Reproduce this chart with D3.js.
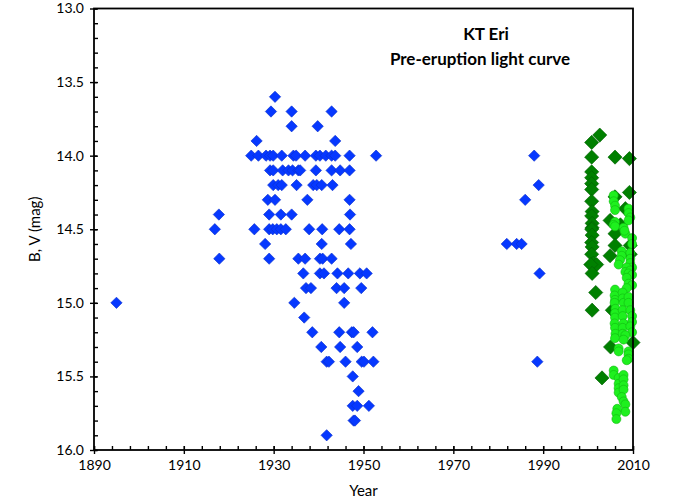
<!DOCTYPE html>
<html lang="en">
<head>
  <meta charset="UTF-8">
  <title>KT Eri</title>
  <style>
    body { margin: 0; background: #fff; }
    text { font-family: Lato, "Open Sans", sans-serif; }
  </style>
</head>
<body>
  <svg width="673" height="502" class="svgs"></svg>
  <script src="https://cdn.jsdelivr.net/npm/d3@7/dist/d3.min.js"></script>
  <script>
    // photographic (B) points, [year, mag]
    const bluePoints = [
      [1895.0, 15.0], [1916.9, 14.5], [1917.8, 14.4], [1917.9, 14.7],
      [1930.3, 13.6],
      [1929.4, 13.7], [1934.0, 13.7], [1942.9, 13.7],
      [1934.0, 13.8], [1939.8, 13.8],
      [1926.2, 13.9], [1943.7, 13.9],
      [1925.0, 14.0], [1926.6, 14.0], [1928.3, 14.0], [1929.2, 14.0], [1929.9, 14.0], [1931.8, 14.0],
      [1934.4, 14.0], [1935.0, 14.0], [1937.0, 14.0], [1939.4, 14.0], [1940.3, 14.0], [1941.6, 14.0],
      [1942.9, 14.0], [1943.7, 14.0], [1946.9, 14.0], [1952.8, 14.0],
      [1929.2, 14.1], [1929.9, 14.1], [1932.0, 14.1], [1933.3, 14.1], [1934.2, 14.1], [1935.5, 14.1],
      [1935.9, 14.1], [1939.4, 14.1], [1942.9, 14.1], [1944.8, 14.1], [1946.9, 14.1],
      [1929.9, 14.2], [1931.0, 14.2], [1931.8, 14.2], [1935.1, 14.2], [1938.8, 14.2], [1939.6, 14.2],
      [1940.7, 14.2], [1943.1, 14.2],
      [1928.7, 14.3], [1930.3, 14.3], [1937.5, 14.3], [1946.9, 14.3],
      [1929.0, 14.4], [1931.6, 14.4], [1934.0, 14.4], [1947.0, 14.4],
      [1925.7, 14.5], [1929.0, 14.5], [1929.8, 14.5], [1930.7, 14.5], [1931.6, 14.5], [1932.7, 14.5],
      [1937.9, 14.5], [1940.8, 14.5], [1944.6, 14.5], [1946.9, 14.5],
      [1928.1, 14.6], [1940.7, 14.6], [1947.2, 14.6],
      [1929.0, 14.7], [1935.5, 14.7], [1937.0, 14.7], [1940.3, 14.7], [1940.9, 14.7], [1942.9, 14.7],
      [1936.6, 14.8], [1940.3, 14.8], [1941.2, 14.8], [1944.2, 14.8], [1946.6, 14.8], [1949.2, 14.8], [1950.7, 14.8],
      [1937.2, 14.9], [1938.3, 14.9], [1944.0, 14.9], [1945.7, 14.9], [1949.5, 14.9],
      [1934.6, 15.0], [1945.7, 15.0],
      [1936.8, 15.1],
      [1938.6, 15.2], [1944.6, 15.2], [1947.4, 15.2], [1947.8, 15.2], [1952.0, 15.2],
      [1940.6, 15.3], [1944.8, 15.3], [1948.6, 15.3],
      [1941.8, 15.4], [1942.3, 15.4], [1946.0, 15.4], [1949.6, 15.4], [1950.1, 15.4], [1952.2, 15.4],
      [1947.6, 15.5], [1948.9, 15.6],
      [1947.6, 15.7], [1948.6, 15.7], [1951.2, 15.7],
      [1947.8, 15.8], [1948.1, 15.8],
      [1941.8, 15.9],
      [1981.9, 14.6], [1984.1, 14.6], [1985.2, 14.6], [1988.0, 14.0], [1989.0, 14.2],
      [1986.0, 14.3], [1989.2, 14.8], [1988.7, 15.4]
    ]

    // dark green diamonds
    const darkPoints = [
      [2002.6, 13.86], [2000.8, 13.91], [2000.8, 14.01], [2006.0, 14.01], [2009.2, 14.02],
      [2000.8, 14.11], [2000.8, 14.15], [2000.8, 14.19], [2000.8, 14.23], [2009.2, 14.25],
      [2006.0, 14.28], [2000.8, 14.31], [2008.3, 14.36], [2000.9, 14.38], [2000.8, 14.41],
      [2004.9, 14.44], [2000.9, 14.46], [2007.2, 14.47], [2000.9, 14.49], [2000.8, 14.50],
      [2006.0, 14.53], [2000.9, 14.54], [2000.8, 14.59], [2006.0, 14.61], [2009.4, 14.61],
      [2000.9, 14.62], [2000.8, 14.67], [2004.9, 14.68], [2009.4, 14.67], [2001.2, 14.73],
      [2001.9, 14.74], [2000.6, 14.74], [2000.9, 14.80], [2001.7, 14.93], [2000.9, 15.05],
      [2005.4, 15.05], [2005.0, 15.30], [2010.0, 15.27], [2003.1, 15.51]
    ]

    // bright green circles
    const greenPoints = [
      [2005.7, 14.27], [2005.7, 14.31], [2006.0, 14.34], [2006.0, 14.37], [2009.0, 14.36],
      [2009.0, 14.39], [2009.4, 14.42], [2009.0, 14.44], [2006.0, 14.45], [2005.7, 14.47],
      [2006.0, 14.48], [2007.9, 14.49], [2008.3, 14.53], [2008.1, 14.51], [2009.8, 14.56],
      [2009.8, 14.60], [2007.5, 14.65], [2007.5, 14.68], [2007.1, 14.71], [2006.8, 14.74],
      [2009.4, 14.66], [2009.4, 14.70], [2009.4, 14.73], [2009.8, 14.76], [2008.6, 14.76],
      [2008.3, 14.79], [2009.4, 14.78],
      [2009.0, 14.80], [2009.8, 14.81], [2008.6, 14.83], [2009.0, 14.87], [2009.8, 14.88],
      [2008.6, 14.90], [2006.0, 14.91], [2005.9, 14.95], [2006.0, 14.98], [2005.9, 15.00],
      [2006.1, 15.04], [2006.0, 15.07], [2006.0, 15.10], [2005.9, 15.14], [2006.0, 15.17],
      [2006.1, 15.21], [2006.0, 15.24], [2007.7, 14.93], [2007.7, 14.97], [2007.9, 15.00],
      [2007.7, 15.05], [2007.7, 15.09], [2007.9, 15.14], [2007.7, 15.17], [2007.7, 15.21],
      [2009.0, 14.96], [2009.0, 15.00], [2009.4, 15.05], [2009.8, 15.09], [2009.8, 15.13],
      [2009.4, 15.16], [2009.8, 15.20], [2008.3, 15.22], [2007.9, 15.25], [2006.8, 15.31],
      [2006.8, 15.33], [2009.0, 15.33], [2009.0, 15.35], [2009.0, 15.38],
      [2008.6, 15.39], [2005.7, 15.46], [2005.7, 15.49], [2006.8, 15.51], [2006.8, 15.55],
      [2006.8, 15.58], [2006.8, 15.61], [2007.9, 15.49], [2007.9, 15.52], [2007.9, 15.56],
      [2007.9, 15.59], [2007.5, 15.64], [2007.9, 15.67], [2008.3, 15.69], [2008.3, 15.74],
      [2006.5, 15.72], [2006.3, 15.75], [2006.3, 15.79]
    ]

    const xTicks = [1890, 1910, 1930, 1950, 1970, 1990, 2010]
    const yTicks = [13.0, 13.5, 14.0, 14.5, 15.0, 15.5, 16.0]

    const mainsvg = d3.select('.svgs')
    const margin = { top: 8.5, right: 40, bottom: 52, left: 94 }
    const width = +mainsvg.attr('width')
    const height = +mainsvg.attr('height')
    const innerWidth = width - margin.left - margin.right
    const innerHeight = height - margin.top - margin.bottom

    const xScale = d3.scaleLinear().domain([1890, 2010]).range([0, innerWidth])
    const yScale = d3.scaleLinear().domain([13, 16]).range([0, innerHeight])

    const g = mainsvg.append('g')
      .attr('transform', `translate(${margin.left}, ${margin.top})`)

    // minor ticks (inside)
    const xMinor = d3.axisBottom(xScale).tickValues(d3.range(1890, 2010.1, 4))
      .tickSize(-4).tickFormat('')
    g.append('g').attr('transform', `translate(0, ${innerHeight})`).call(xMinor)
    const yMinor = d3.axisLeft(yScale).tickValues(d3.range(13, 16.01, 0.1))
      .tickSize(-4).tickFormat('')
    g.append('g').call(yMinor)

    // major ticks (cross)
    const xAxis = d3.axisBottom(xScale).tickValues(xTicks).tickSize(4).tickPadding(6)
      .tickFormat(d3.format('d'))
    const xg = g.append('g').attr('transform', `translate(0, ${innerHeight})`).call(xAxis)
    xg.selectAll('.tick line').attr('y1', -4)
    const yAxis = d3.axisLeft(yScale).tickValues(yTicks).tickSize(4).tickPadding(6)
      .tickFormat(d3.format('.1f'))
    const yg = g.append('g').call(yAxis)
    yg.selectAll('.tick line').attr('x1', 3)

    g.selectAll('.domain').remove()
    g.selectAll('.tick line').attr('stroke', '#000').attr('stroke-width', 1.4)
    g.selectAll('.tick text').attr('font-size', 14).attr('fill', '#000')
      .style('font-family', 'Lato, sans-serif')

    const diamond = d3.symbol().type(d3.symbolSquare)

    g.append('g').selectAll('path').data(bluePoints).join('path')
      .attr('d', diamond.size(64)())
      .attr('transform', d => `translate(${xScale(d[0])}, ${yScale(d[1])}) rotate(45)`)
      .attr('fill', '#0638ff')
      .attr('stroke', '#0a2fcc')
      .attr('stroke-width', 0.6)

    g.append('g').selectAll('path').data(darkPoints).join('path')
      .attr('d', diamond.size(100)())
      .attr('transform', d => `translate(${xScale(d[0])}, ${yScale(d[1])}) rotate(45)`)
      .attr('fill', '#008000')
      .attr('stroke', '#006000')
      .attr('stroke-width', 0.6)

    g.append('g').selectAll('circle').data(greenPoints).join('circle')
      .attr('cx', d => xScale(d[0]))
      .attr('cy', d => yScale(d[1]))
      .attr('r', 4.5)
      .attr('fill', '#1ef01e')
      .attr('stroke', '#10b810')
      .attr('stroke-width', 0.6)

    // frame
    g.append('rect')
      .attr('width', innerWidth)
      .attr('height', innerHeight)
      .attr('fill', 'none')
      .attr('stroke', '#000')
      .attr('stroke-width', 1.8)

    g.append('text')
      .text('KT Eri')
      .attr('x', 392).attr('y', 31)
      .attr('text-anchor', 'middle')
      .attr('font-size', 17).attr('font-weight', 'bold')

    g.append('text')
      .text('Pre-eruption light curve')
      .attr('x', 386).attr('y', 56)
      .attr('text-anchor', 'middle')
      .attr('font-size', 17).attr('font-weight', 'bold')

    mainsvg.append('text')
      .text('Year')
      .attr('x', margin.left + innerWidth / 2).attr('y', 496)
      .attr('text-anchor', 'middle')
      .attr('font-size', 15).attr('fill', '#000')

    mainsvg.append('text')
      .text('B, V (mag)')
      .attr('transform', `translate(40, ${margin.top + innerHeight / 2}) rotate(-90)`)
      .attr('text-anchor', 'middle')
      .attr('font-size', 15).attr('fill', '#000')
  </script>
</body>
</html>
